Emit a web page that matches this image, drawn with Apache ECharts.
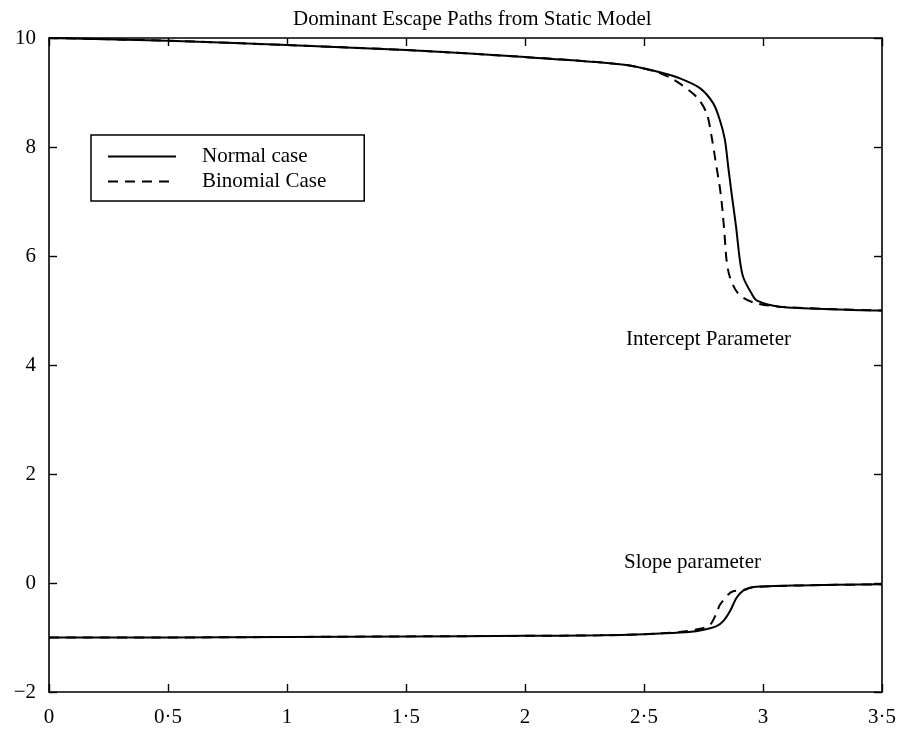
<!DOCTYPE html>
<html>
<head>
<meta charset="utf-8">
<script src="https://cdn.jsdelivr.net/npm/echarts@6/dist/echarts.min.js"></script>
<style>html,body{margin:0;padding:0;background:#fff;}#c{width:900px;height:734px;}</style>
</head>
<body>
<div id="c"></div>
<script>
// ---- data ----
const titleText = 'Dominant Escape Paths from Static Model';
const seriesNames = ['Normal case', 'Binomial Case'];
const xTicks = [0, 0.5, 1, 1.5, 2, 2.5, 3, 3.5];
const yTicks = [-2, 0, 2, 4, 6, 8, 10];

const interceptNormalX = [0, 0.5, 1, 1.5, 2, 2.3, 2.445, 2.567, 2.651, 2.735, 2.791, 2.819, 2.84, 2.854, 2.868, 2.887, 2.903, 2.917, 2.952, 2.975, 3.07, 3.32, 3.5];
const interceptNormalY = [10, 9.95, 9.87, 9.78, 9.65, 9.56, 9.49, 9.37, 9.26, 9.08, 8.80, 8.49, 8.13, 7.63, 7.15, 6.53, 5.92, 5.61, 5.31, 5.18, 5.07, 5.02, 5.0];

const interceptBinomX = [0, 0.5, 1, 1.5, 2, 2.3, 2.445, 2.55, 2.623, 2.721, 2.763, 2.784, 2.80, 2.822, 2.836, 2.847, 2.861, 2.896, 2.958, 3.07, 3.32, 3.5];
const interceptBinomY = [10, 9.95, 9.87, 9.78, 9.65, 9.56, 9.49, 9.38, 9.24, 8.92, 8.62, 8.19, 7.76, 7.15, 6.53, 5.92, 5.61, 5.31, 5.15, 5.07, 5.02, 5.0];

const slopeNormalX = [0, 0.5, 1, 1.5, 2, 2.315, 2.5, 2.65, 2.735, 2.805, 2.833, 2.861, 2.889, 2.917, 2.96, 3.155, 3.5];
const slopeNormalY = [-1.0, -1.0, -0.99, -0.98, -0.97, -0.96, -0.94, -0.91, -0.87, -0.79, -0.70, -0.52, -0.27, -0.14, -0.075, -0.044, -0.025];

const slopeBinomX = [0, 0.5, 1, 1.5, 2, 2.315, 2.5, 2.65, 2.735, 2.777, 2.805, 2.819, 2.854, 2.875, 2.917, 2.96, 3.155, 3.5];
const slopeBinomY = [-1.0, -1.0, -0.99, -0.98, -0.97, -0.96, -0.94, -0.90, -0.84, -0.77, -0.55, -0.40, -0.21, -0.15, -0.13, -0.075, -0.044, -0.025];

const annotations = ['Intercept Parameter', 'Slope parameter'];

// ---- chart ----
const FONT = '"Liberation Serif", "DejaVu Serif", serif';
const FS = 21;
const zip = (xs, ys) => xs.map((x, i) => [x, ys[i]]);
const fmtX = v => String(v).replace('.', '\u00b7');
const fmtY = v => (v < 0 ? '\u2212' + Math.abs(v) : String(v));

const chart = echarts.init(document.getElementById('c'), null, {renderer: 'canvas'});
const axisCommon = {
  axisLine: {show: true, onZero: false, lineStyle: {color: '#000', width: 1.6}},
  axisTick: {show: true, inside: true, length: 8, lineStyle: {color: '#000', width: 1.4}},
  splitLine: {show: false}
};
function xAxis(pos, showLabel) {
  return Object.assign({}, axisCommon, {
    type: 'value', position: pos, min: xTicks[0], max: xTicks[xTicks.length - 1], interval: 0.5,
    axisLabel: {show: showLabel, formatter: fmtX, color: '#000', fontFamily: FONT, fontSize: FS, margin: 15}
  });
}
function yAxis(pos, showLabel) {
  return Object.assign({}, axisCommon, {
    type: 'value', position: pos, min: yTicks[0], max: yTicks[yTicks.length - 1], interval: 2,
    axisLabel: {show: showLabel, formatter: fmtY, color: '#000', fontFamily: FONT, fontSize: FS, margin: 13}
  });
}
const solid = {color: '#000', width: 2, type: 'solid'};
const dashed = {color: '#000', width: 2, type: [10, 7]};
function line(name, xs, ys, style) {
  return {
    name: name, type: 'line', xAxisIndex: 0, yAxisIndex: 0,
    data: zip(xs, ys), showSymbol: false, symbol: 'none',
    smooth: 0.3,
    lineStyle: style, itemStyle: {color: '#000'}, animation: false
  };
}

chart.setOption({
  backgroundColor: '#fff',
  animation: false,
  title: {
    text: titleText, left: 288, top: 4,
    textStyle: {fontFamily: FONT, fontSize: FS, fontWeight: 'normal', color: '#000'}
  },
  grid: {left: 49, right: 18, top: 38, bottom: 42, containLabel: false},
  xAxis: [xAxis('bottom', true), xAxis('top', false)],
  yAxis: [yAxis('left', true), yAxis('right', false)],
  legend: {
    show: true, orient: 'vertical', left: 91, top: 135,
    data: seriesNames,
    itemWidth: 68, itemHeight: 20, itemGap: 4,
    itemStyle: {color: 'rgba(0,0,0,0)', borderColor: 'rgba(0,0,0,0)', borderWidth: 0},
    padding: [11, 38, 9, 16],
    borderColor: '#000', borderWidth: 1.5, backgroundColor: '#fff',
    textStyle: {fontFamily: FONT, fontSize: FS, color: '#000', padding: [0, 0, 0, 21]},
    selectedMode: false
  },
  graphic: [
    {type: 'text', left: 626, top: 329, style: {text: annotations[0], font: FS + 'px ' + FONT, fill: '#000'}},
    {type: 'text', left: 624, top: 552, style: {text: annotations[1], font: FS + 'px ' + FONT, fill: '#000'}}
  ],
  series: [
    line(seriesNames[0], interceptNormalX, interceptNormalY, solid),
    line(seriesNames[1], interceptBinomX, interceptBinomY, dashed),
    line(seriesNames[0], slopeNormalX, slopeNormalY, solid),
    line(seriesNames[1], slopeBinomX, slopeBinomY, dashed)
  ]
});
</script>
</body>
</html>
